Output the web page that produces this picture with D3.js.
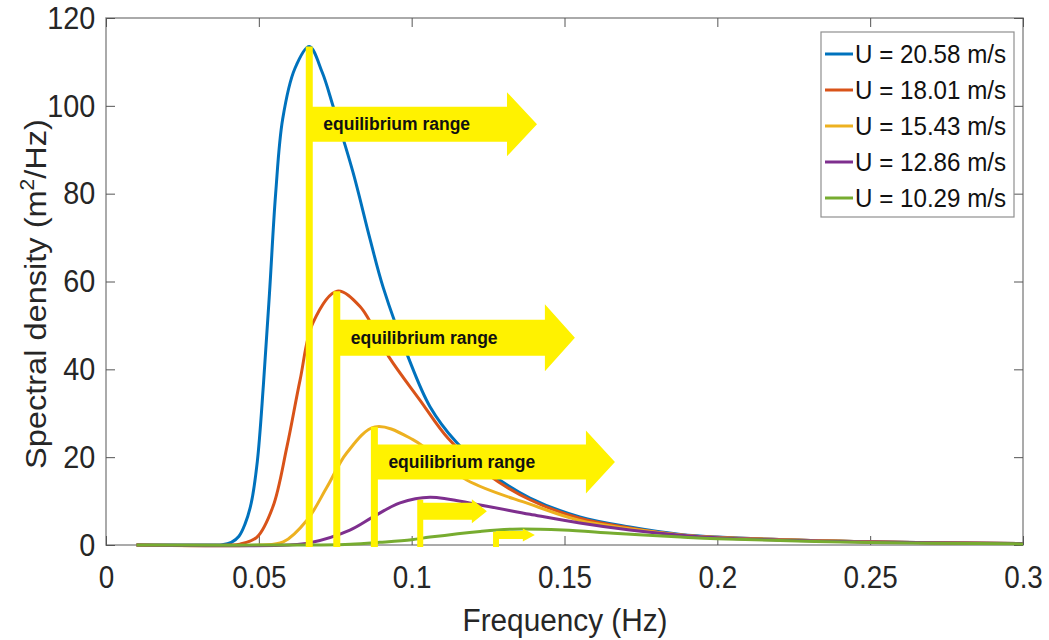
<!DOCTYPE html>
<html>
<head>
<meta charset="utf-8">
<script src="https://cdn.jsdelivr.net/npm/d3@7"></script>
<style>
  body { margin: 0; background: #fff; }
  svg { display: block; font-family: "Liberation Sans", Arial, sans-serif; }
</style>
</head>
<body>
<svg id="chart" width="1049" height="640"></svg>
<script>
// Wind speed labels for the legend
let speeds = ['U = 20.58 m/s', 'U = 18.01 m/s', 'U = 15.43 m/s', 'U = 12.86 m/s', 'U = 10.29 m/s'];
let colors = ['#0072BD', '#D95319', '#EDB120', '#7E2F8E', '#77AC30'];

// Spectra, [frequency (Hz), density (m^2/Hz)]
let spec2058 = [[0.010, 0], [0.035, 0], [0.038, 0.05], [0.041, 0.6], [0.0435, 2.0], [0.0455, 4.8],
  [0.0475, 9.5], [0.0495, 19], [0.0515, 36.5], [0.0535, 57.5], [0.0555, 80], [0.0578, 97],
  [0.0618, 108.5], [0.0665, 113.5], [0.0707, 107.7], [0.0743, 99.9], [0.0808, 84.9],
  [0.0864, 69.6], [0.0907, 58.6], [0.0988, 42.9], [0.106, 31.5], [0.1145, 23.5], [0.1256, 16.4],
  [0.1387, 10.7], [0.155, 6.4], [0.1714, 4.1], [0.188, 2.4], [0.2, 1.8], [0.25, 0.75], [0.3, 0.35]];
let spec1801 = [[0.010, 0], [0.040, 0], [0.0438, 0.2], [0.0494, 1.8], [0.0546, 8.7], [0.0592, 22.4],
  [0.0635, 37.6], [0.0677, 50.6], [0.0756, 57.8], [0.0831, 54.3], [0.0925, 42.9], [0.1027, 33],
  [0.1119, 24.3], [0.1246, 16.2], [0.1387, 10.3], [0.155, 6.1], [0.1714, 3.9], [0.188, 2.3],
  [0.2, 1.75], [0.25, 0.73], [0.3, 0.34]];
let spec1543 = [[0.010, 0], [0.050, 0], [0.058, 0.7], [0.0658, 5.7], [0.0723, 13.2], [0.0788, 21],
  [0.088, 26.9], [0.1004, 24], [0.118, 14.8], [0.1387, 9.3], [0.155, 5.6], [0.1714, 3.7],
  [0.188, 2.3], [0.2, 1.7], [0.25, 0.7], [0.3, 0.33]];
let spec1286 = [[0.010, 0], [0.060, 0], [0.0667, 0.5], [0.0798, 3.4], [0.0874, 6.4], [0.0962, 9.6],
  [0.106, 10.9], [0.1224, 9.1], [0.1387, 7.0], [0.155, 5.0], [0.1714, 3.4], [0.188, 2.2],
  [0.2, 1.65], [0.25, 0.68], [0.3, 0.32]];
let spec1029 = [[0.010, 0], [0.070, 0], [0.080, 0.15], [0.0896, 0.6], [0.1, 1.2], [0.106, 1.8],
  [0.1224, 3.1], [0.133, 3.6], [0.1495, 3.4], [0.166, 2.7], [0.188, 1.8], [0.2, 1.4],
  [0.25, 0.55], [0.3, 0.25]];
let spectra = [spec2058, spec1801, spec1543, spec1286, spec1029];

// Axis ticks
let xTicks = [0, 0.05, 0.1, 0.15, 0.2, 0.25, 0.3];
let yTicks = [0, 20, 40, 60, 80, 100, 120];

// Hand drawn "equilibrium range" markers: peak frequency, top of the bar,
// arrow centre height and arrow tip frequency (data units)
let markFreq = [0.0665, 0.0755, 0.0878, 0.1028, 0.1276];
let markTop = [113.5, 57.8, 26.9, 10.3, 3.0];
let arrowMid = [95.8, 47.2, 18.9, 7.7, 2.3];
let arrowTip = [0.141, 0.1534, 0.1665, 0.1246, 0.1403];
let arrowText = ['equilibrium range', 'equilibrium range', 'equilibrium range', '', ''];

let svg = d3.select('#chart');
let margin = {left: 106, top: 18, right: 1023, bottom: 545};

let x = d3.scaleLinear().domain([0, 0.3]).range([margin.left, margin.right]);
let y = d3.scaleLinear().domain([0, 120]).range([margin.bottom, margin.top]);

// Axes box
svg.append('rect')
    .attr('x', margin.left)
    .attr('y', margin.top)
    .attr('width', margin.right - margin.left)
    .attr('height', margin.bottom - margin.top)
    .attr('fill', 'none')
    .attr('stroke', '#8f8f8f')
    .attr('stroke-width', 1.5);

// Inward ticks on all four sides
function styleAxis(g) {
    g.select('.domain').remove();
    g.selectAll('line').attr('stroke', '#555').attr('stroke-width', 1);
}

svg.append('g')
    .attr('transform', `translate(0,${margin.bottom})`)
    .call(d3.axisBottom(x).tickValues(xTicks).tickSizeInner(-9).tickSizeOuter(0)
        .tickPadding(14).tickFormat(d => d))
    .call(styleAxis)
    .selectAll('text')
    .attr('font-size', 32)
    .attr('fill', '#262626')
    .attr('font-family', '"Liberation Sans", Arial, sans-serif')
    .attr('transform', 'scale(0.87,1)')
    .attr('dy', '0.92em');

svg.append('g')
    .attr('transform', `translate(0,${margin.top})`)
    .call(d3.axisTop(x).tickValues(xTicks).tickSizeInner(-9).tickSizeOuter(0).tickFormat(''))
    .call(styleAxis);

svg.append('g')
    .attr('transform', `translate(${margin.left},0)`)
    .call(d3.axisLeft(y).tickValues(yTicks).tickSizeInner(-9).tickSizeOuter(0).tickPadding(12))
    .call(styleAxis)
    .selectAll('text')
    .attr('font-size', 32)
    .attr('fill', '#262626')
    .attr('font-family', '"Liberation Sans", Arial, sans-serif')
    .attr('transform', 'scale(0.9,1)');

svg.append('g')
    .attr('transform', `translate(${margin.right},0)`)
    .call(d3.axisRight(y).tickValues(yTicks).tickSizeInner(-9).tickSizeOuter(0).tickFormat(''))
    .call(styleAxis);

// Axis labels
svg.append('text')
    .attr('transform', 'translate(565,631) scale(0.96,1)')
    .attr('text-anchor', 'middle')
    .attr('font-size', 31)
    .attr('fill', '#262626')
    .text('Frequency (Hz)');

let yLab = svg.append('text')
    .attr('transform', 'translate(46,294) rotate(-90) scale(1.05,0.97)')
    .attr('text-anchor', 'middle')
    .attr('font-size', 31)
    .attr('fill', '#262626');
yLab.append('tspan').text('Spectral density (m');
yLab.append('tspan').attr('font-size', 20).attr('dy', -12).text('2');
yLab.append('tspan').attr('dy', 12).text('/Hz)');

// Spectrum curves
let line = d3.line()
    .x(d => x(d[0]))
    .y(d => y(d[1]))
    .curve(d3.curveCatmullRom.alpha(0.5));

svg.append('g')
    .selectAll('path')
    .data(spectra)
    .join('path')
    .attr('d', line)
    .attr('fill', 'none')
    .attr('stroke', (d, i) => colors[i])
    .attr('stroke-width', 3);

// Yellow markers and arrows
let yellow = '#FFF200';
let bodyH = [35, 36, 35, 17, 8];
let headH = [64, 67, 63, 24, 13];
let headL = [30, 30, 29, 15, 12];

markFreq.forEach(function(f, i) {
    let g = svg.append('g');
    let x0 = x(f);
    let cy = y(arrowMid[i]);
    let tip = x(arrowTip[i]);
    let hb = bodyH[i] / 2;
    let hh = headH[i] / 2;
    let hs = tip - headL[i];

    g.append('line')
        .attr('x1', x0).attr('x2', x0)
        .attr('y1', y(markTop[i])).attr('y2', y(0) + 2)
        .attr('stroke', yellow)
        .attr('stroke-width', i < 3 ? 7 : 6);

    let pts = [[x0, cy - hb], [hs, cy - hb], [hs, cy - hh], [tip, cy],
        [hs, cy + hh], [hs, cy + hb], [x0, cy + hb]];
    g.append('polygon')
        .attr('points', pts.map(p => p.join(',')).join(' '))
        .attr('fill', yellow);

    if (arrowText[i]) {
        g.append('text')
            .attr('x', x0 + 14)
            .attr('y', cy + 6)
            .attr('font-size', 17.5)
            .attr('font-weight', 'bold')
            .attr('fill', '#111')
            .text(arrowText[i]);
    }
});

// Legend
let legend = svg.append('g');
legend.append('rect')
    .attr('x', 821).attr('y', 32)
    .attr('width', 193).attr('height', 185)
    .attr('fill', '#fff')
    .attr('stroke', '#8f8f8f')
    .attr('stroke-width', 1.2);

let rows = legend.selectAll('g')
    .data(speeds)
    .join('g')
    .attr('transform', (d, i) => `translate(0,${54 + i * 36})`);

rows.append('line')
    .attr('x1', 825).attr('x2', 853)
    .attr('stroke', (d, i) => colors[i])
    .attr('stroke-width', 3);

rows.append('text')
    .attr('transform', 'translate(855,9) scale(0.93,1)')
    .attr('font-size', 26)
    .attr('fill', '#111')
    .text(d => d);
</script>
</body>
</html>
